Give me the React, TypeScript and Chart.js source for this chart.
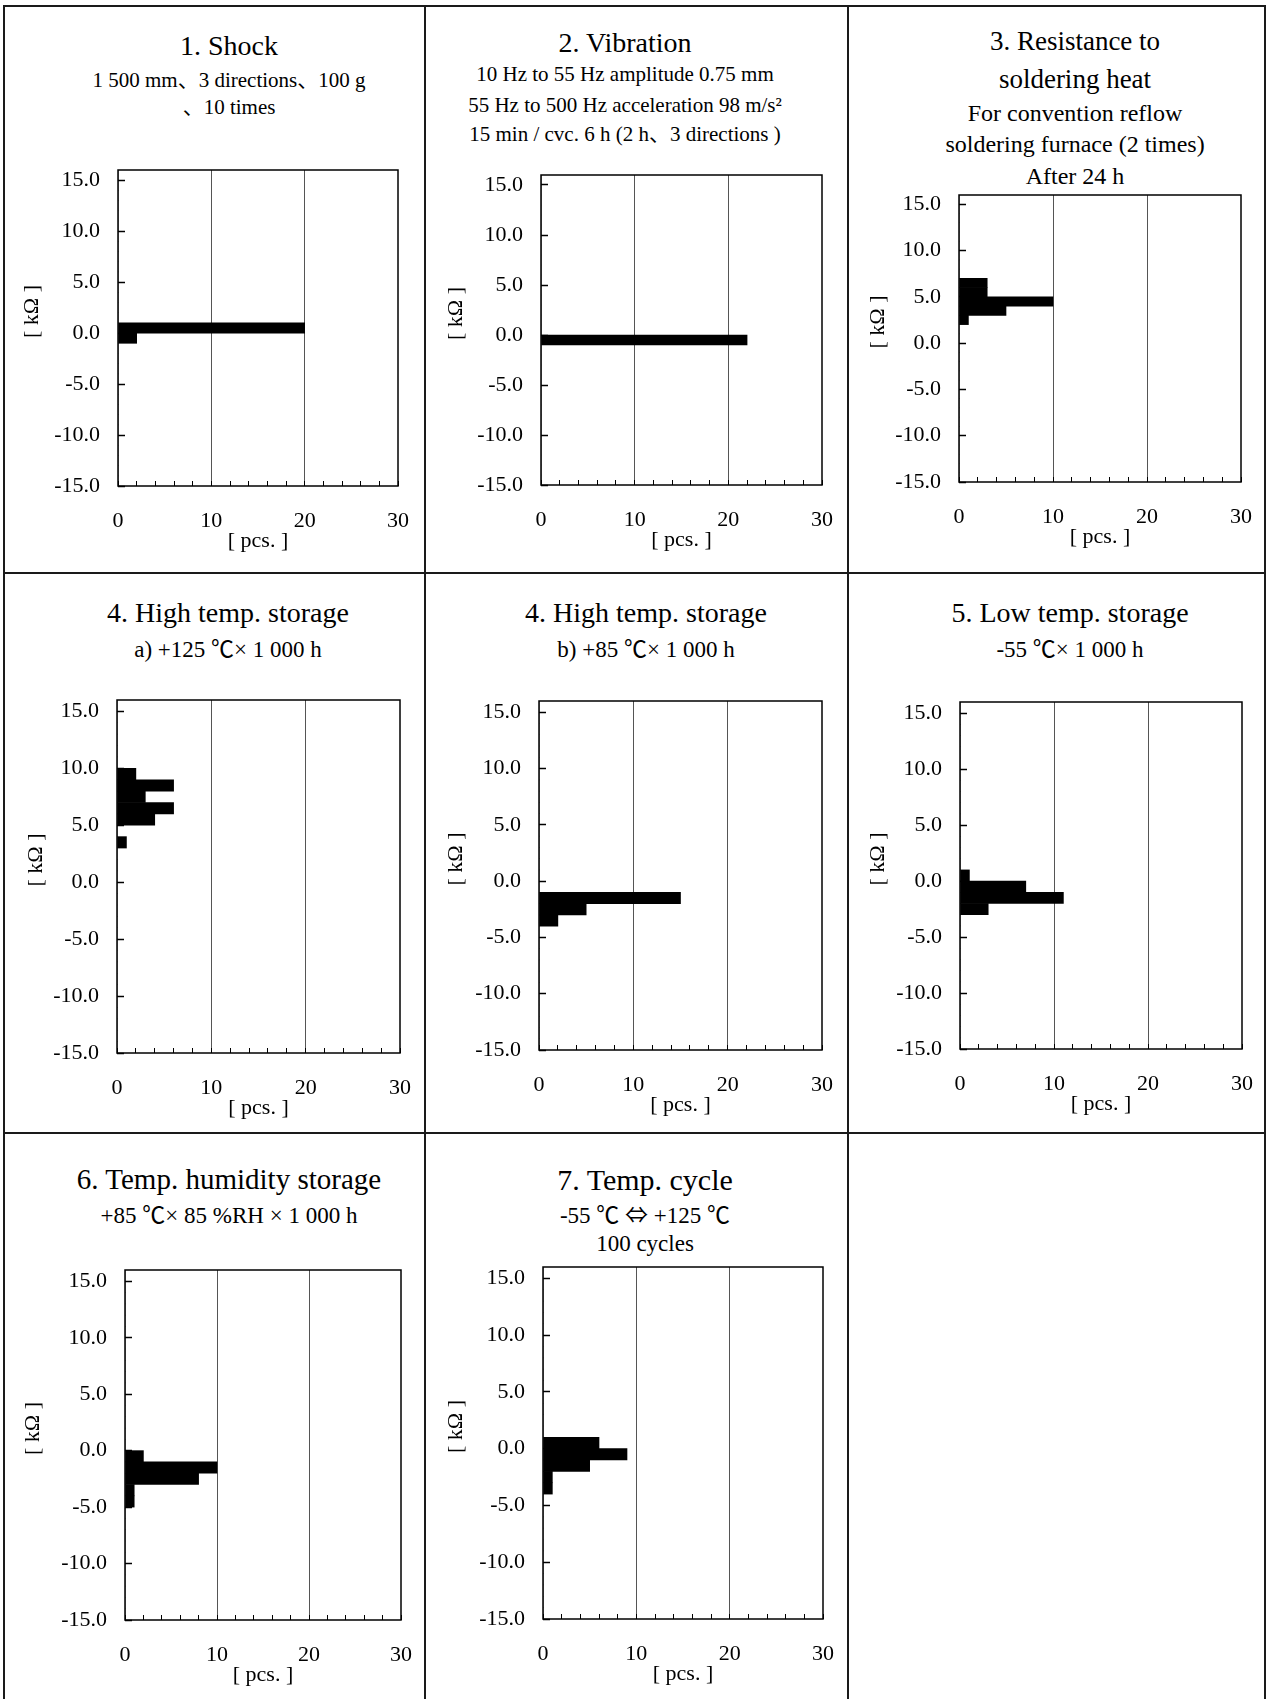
import { useEffect, useRef } from "react";
import { Chart, registerables } from "chart.js";

Chart.register(...registerables);

// ---------- data ----------
// each panel: lower edge of a 1 kΩ bin and number of pieces in it
const shockBins = [0, -1];
const shockCounts = [20, 2];

const vibrationBins = [-1];
const vibrationCounts = [22];

const solderHeatBins = [6, 5, 4, 3, 2];
const solderHeatCounts = [3, 3, 10, 5, 1];

const highTempABins = [9, 8, 7, 6, 5, 3];
const highTempACounts = [2, 6, 3, 6, 4, 1];

const highTempBBins = [-2, -3, -4];
const highTempBCounts = [15, 5, 2];

const lowTempBins = [0, -1, -2, -3];
const lowTempCounts = [1, 7, 11, 3];

const humidityBins = [-1, -2, -3, -4, -5];
const humidityCounts = [2, 10, 8, 1, 1];

const tempCycleBins = [0, -1, -2, -3, -4];
const tempCycleCounts = [6, 9, 5, 1, 1];

// axes
const yMin = -15;
const yMax = 16;
const yTickValues = [-15, -10, -5, 0, 5, 10, 15];
const xMin = 0;
const xMax = 30;
const xMinorTicks = [0, 2, 4, 6, 8, 10, 12, 14, 16, 18, 20, 22, 24, 26, 28, 30];
const xLabelValues = [0, 10, 20, 30];
const xTickLabels = ["0", "10", "20", "30"];
const xGridValues = [10, 20];
const xAxisTitle = "[ pcs. ]";
const yAxisTitle = "      [ kΩ ]";

// panel titles
const panelTitles = [
  ["1. Shock", "1 500 mm、3 directions、100 g", "、10 times"],
  ["2. Vibration", "10 Hz to 55 Hz amplitude 0.75 mm", "55 Hz to 500 Hz acceleration 98 m/s²", "15 min / cvc. 6 h (2 h、3 directions )"],
  ["3. Resistance to", "soldering heat", "For convention reflow", "soldering furnace (2 times)", "After 24 h"],
  ["4. High temp. storage", "a) +125 ℃× 1 000 h"],
  ["4. High temp. storage", "b) +85 ℃× 1 000 h"],
  ["5. Low temp. storage", "-55 ℃× 1 000 h"],
  ["6. Temp. humidity storage", "+85 ℃× 85 %RH × 1 000 h"],
  ["7. Temp. cycle", "-55 ℃ ⇔ +125 ℃", "100 cycles"],
];

const panelBins = [shockBins, vibrationBins, solderHeatBins, highTempABins, highTempBBins, lowTempBins, humidityBins, tempCycleBins];
const panelCounts = [shockCounts, vibrationCounts, solderHeatCounts, highTempACounts, highTempBCounts, lowTempCounts, humidityCounts, tempCycleCounts];

// ---------- layout (page pixels) ----------
const plotBoxes = [
  { l: 118, r: 398, t: 170, b: 486, yt: 86 },
  { l: 541, r: 822, t: 175, b: 485, yt: 85 },
  { l: 959, r: 1241, t: 195, b: 482, yt: 81 },
  { l: 117, r: 400, t: 700, b: 1053, yt: 81 },
  { l: 539, r: 822, t: 701, b: 1050, yt: 83 },
  { l: 960, r: 1242, t: 702, b: 1049, yt: 82 },
  { l: 125, r: 401, t: 1270, b: 1620, yt: 92 },
  { l: 543, r: 823, t: 1267, b: 1619, yt: 87 },
];

// per panel: x centre, and [centre y, font size] for each title line
const titleLayout = [
  { cx: 229, lines: [[46, 28], [78, 21], [105, 21]] },
  { cx: 625, lines: [[43, 28], [74, 21], [105, 21], [132, 21]] },
  { cx: 1075, lines: [[41, 27], [79, 27], [113, 24], [144, 24], [176, 24]] },
  { cx: 228, lines: [[613, 28], [647, 23]] },
  { cx: 646, lines: [[613, 28], [647, 23]] },
  { cx: 1070, lines: [[613, 28], [647, 23]] },
  { cx: 229, lines: [[1179, 29], [1213, 23]] },
  { cx: 645, lines: [[1179, 30], [1213, 23], [1244, 23]] },
];

const gridCols = [4, 425, 848, 1265];
const gridRows = [6, 573, 1133];
const PAGE_W = 1268;
const PAGE_H = 1699;

const FONT = "'Liberation Serif', 'Noto Sans CJK JP', serif";
const CJK_FONT = "'Noto Sans CJK JP', 'Liberation Serif', serif";
const CJK_CHARS = "、℃⇔";
const PAD_TOP = 10;
const PAD_RIGHT = 16;
const X_AXIS_H = 70;

function histogram(bins: number[], counts: number[]) {
  const data: { x: number; y: number }[] = [];
  for (let lo = yMin; lo < yMax; lo++) {
    const i = bins.indexOf(lo);
    data.push({ y: lo + 0.5, x: i >= 0 ? counts[i] : 0 });
  }
  return data;
}

const framePlugin = {
  id: "frame",
  afterDatasetsDraw(chart: any) {
    const { ctx, chartArea: a } = chart;
    ctx.save();
    ctx.strokeStyle = "#000";
    ctx.lineWidth = 1.5;
    ctx.strokeRect(a.left, a.top, a.right - a.left, a.bottom - a.top);
    ctx.restore();
  },
};

function Panel({ index }: { index: number }) {
  const ref = useRef<HTMLCanvasElement | null>(null);
  const box = plotBoxes[index];
  const axisW = box.yt + 13;
  const width = box.r - box.l + axisW + PAD_RIGHT;
  const height = box.b - box.t + PAD_TOP + X_AXIS_H;

  useEffect(() => {
    if (!ref.current) return;
    const font = { family: FONT, size: 22 };
    const chart = new Chart(ref.current, {
      type: "bar",
      data: {
        datasets: [
          {
            data: histogram(panelBins[index], panelCounts[index]) as any,
            backgroundColor: "#000",
            borderWidth: 0,
            barPercentage: 1,
            categoryPercentage: 1,
          },
        ],
      },
      options: {
        indexAxis: "y",
        animation: false,
        responsive: false,
        maintainAspectRatio: false,
        devicePixelRatio: 1,
        layout: { padding: { top: PAD_TOP, right: PAD_RIGHT, left: 0, bottom: 0 } },
        plugins: { legend: { display: false }, tooltip: { enabled: false } },
        scales: {
          x: {
            type: "linear",
            min: xMin,
            max: xMax,
            afterBuildTicks: (ax: any) => {
              ax.ticks = xMinorTicks.map((v) => ({ value: v }));
            },
            afterFit: (ax: any) => {
              ax.height = X_AXIS_H;
              ax.paddingLeft = 0;
              ax.paddingRight = 0;
            },
            ticks: {
              autoSkip: false,
              maxRotation: 0,
              padding: 27,
              color: "#000",
              font,
              callback: (v: any) => {
                const i = xLabelValues.indexOf(Number(v));
                return i >= 0 ? xTickLabels[i] : "";
              },
            },
            grid: {
              color: (c: any) => (c.tick && xGridValues.includes(c.tick.value) ? "#555" : "rgba(0,0,0,0)"),
              lineWidth: 1,
              tickLength: -5,
              tickColor: "#000",
              tickWidth: 1,
            },
            border: { display: false },
            title: { display: true, text: xAxisTitle, color: "#000", font, padding: { top: 0, bottom: 2 } },
          },
          y: {
            type: "linear",
            min: yMin,
            max: yMax,
            offset: false,
            afterBuildTicks: (ax: any) => {
              ax.ticks = yTickValues.map((v) => ({ value: v }));
            },
            afterFit: (ax: any) => {
              ax.width = axisW;
              ax.paddingTop = 0;
              ax.paddingBottom = 0;
            },
            ticks: {
              autoSkip: false,
              padding: 25,
              color: "#000",
              font,
              callback: (v: any) => Number(v).toFixed(1),
            },
            grid: {
              drawOnChartArea: false,
              offset: false,
              tickLength: -7,
              tickColor: "#000",
              tickWidth: 1.5,
            },
            border: { display: false },
            title: { display: true, text: yAxisTitle, color: "#000", font, padding: { top: 0, bottom: 0 } },
          },
        },
      } as any,
      plugins: [framePlugin],
    });
    return () => chart.destroy();
  }, [index]);

  return (
    <canvas
      ref={ref}
      width={width}
      height={height}
      style={{ position: "absolute", left: box.l - axisW, top: box.t - PAD_TOP, width, height }}
    />
  );
}

function TitleText({ text }: { text: string }) {
  const parts: JSX.Element[] = [];
  let buf = "";
  let k = 0;
  for (const ch of Array.from(text)) {
    if (CJK_CHARS.includes(ch)) {
      if (buf) parts.push(<span key={k++}>{buf}</span>);
      buf = "";
      parts.push(
        <span key={k++} style={{ fontFamily: CJK_FONT }}>
          {ch}
        </span>
      );
    } else {
      buf += ch;
    }
  }
  if (buf) parts.push(<span key={k++}>{buf}</span>);
  return <>{parts}</>;
}

function Titles({ index }: { index: number }) {
  const lay = titleLayout[index];
  return (
    <>
      {panelTitles[index].map((text, i) => {
        const [cy, size] = lay.lines[i];
        const lh = Math.round(size * 1.3);
        return (
          <div
            key={i}
            style={{
              position: "absolute",
              left: lay.cx - 210,
              width: 420,
              top: cy - lh / 2,
              height: lh,
              lineHeight: lh + "px",
              fontSize: size,
              fontFamily: FONT,
              color: "#000",
              textAlign: "center",
              whiteSpace: "nowrap",
            }}
          >
            <TitleText text={text} />
          </div>
        );
      })}
    </>
  );
}

export default function App() {
  const lines: JSX.Element[] = [];
  gridCols.forEach((x, i) =>
    lines.push(
      <div key={"c" + i} style={{ position: "absolute", left: x - 1, top: gridRows[0] - 1, width: 2, height: PAGE_H - gridRows[0] + 1, background: "#1a1a1a" }} />
    )
  );
  gridRows.forEach((y, i) =>
    lines.push(
      <div key={"r" + i} style={{ position: "absolute", left: gridCols[0] - 1, top: y - 1, width: gridCols[3] - gridCols[0] + 2, height: 2, background: "#1a1a1a" }} />
    )
  );
  return (
    <div style={{ position: "absolute", left: 0, top: 0, width: PAGE_W, height: PAGE_H, overflow: "hidden", background: "#fff" }}>
      {lines}
      {plotBoxes.map((_, i) => (
        <Titles key={"t" + i} index={i} />
      ))}
      {plotBoxes.map((_, i) => (
        <Panel key={"p" + i} index={i} />
      ))}
    </div>
  );
}
